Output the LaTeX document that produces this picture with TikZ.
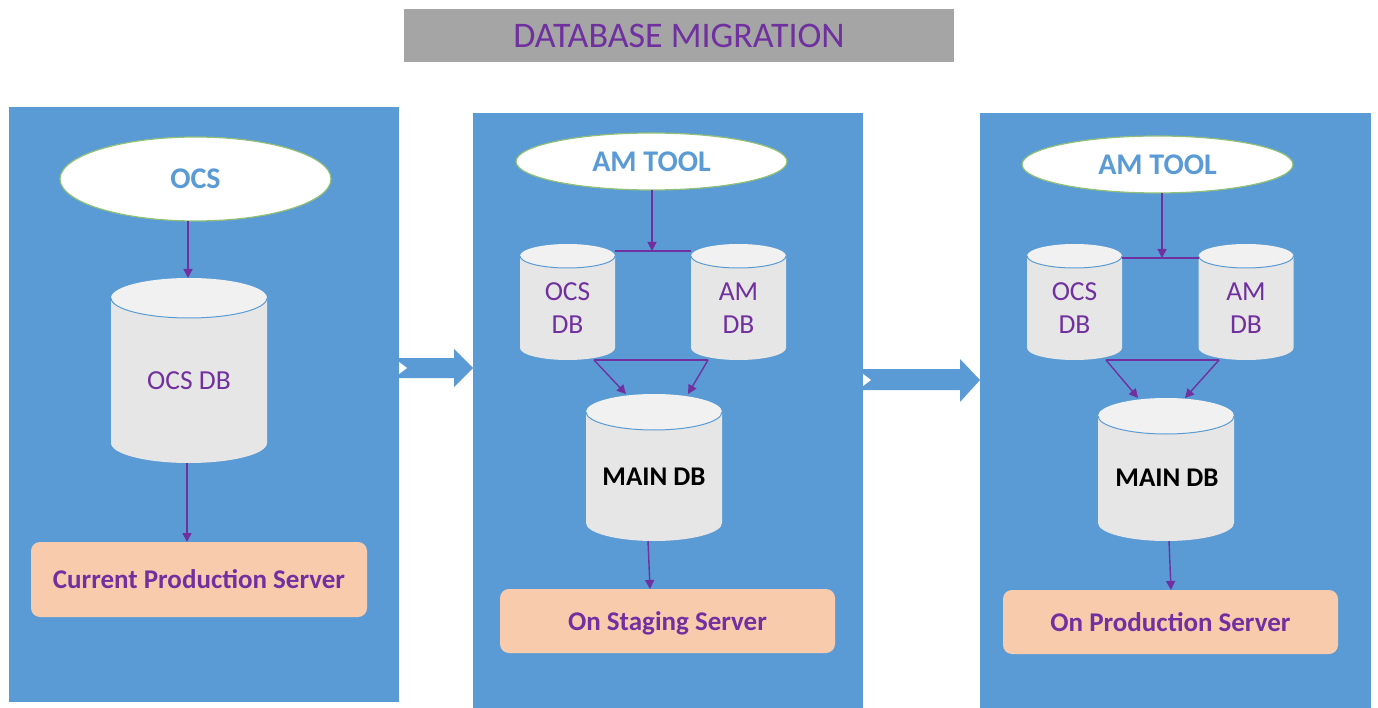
\documentclass[tikz,border=0pt]{standalone}
\usepackage{fontspec}
\setmainfont{Carlito}
\usetikzlibrary{shapes.geometric,arrows.meta,calc}
\definecolor{panelblue}{HTML}{5B9BD5}
\definecolor{dbgray}{HTML}{E7E6E6}
\definecolor{dbtop}{HTML}{F1F1F1}
\definecolor{peach}{HTML}{F8CBAD}
\definecolor{violet}{HTML}{7030A0}
\definecolor{titlegray}{HTML}{A5A5A5}
\definecolor{ellgreen}{HTML}{8FBF78}
\tikzset{
  panel/.style={rectangle,fill=panelblue,inner sep=0pt,outer sep=0pt},
  oval/.style={ellipse,fill=white,draw=ellgreen,line width=1.2pt,inner sep=0pt,outer sep=0pt,text=panelblue,font=\bfseries\fontsize{30}{32}\selectfont,text depth=0pt},
  serverbox/.style={rectangle,rounded corners=9pt,fill=peach,inner sep=0pt,outer sep=0pt,text=violet,font=\bfseries\fontsize{27}{30}\selectfont,text depth=0pt},
  dbshape/.style={rectangle,inner sep=0pt,outer sep=0pt},
  dblabel/.style={text=violet,align=center,font=\fontsize{27.5}{33}\selectfont,inner sep=0pt},
  mainlabel/.style={text=black,font=\bfseries\fontsize{27}{30}\selectfont,inner sep=0pt},
  link/.style={draw=violet,line width=1.4pt},
  linkarrow/.style={link,-{Triangle[length=9pt,width=9pt]}},
  blockarrow/.style={fill=panelblue,draw=none},
}
% name, centre x, top, bottom, half width, ellipse half height
\newcommand{\dbcyl}[6]{%
  \fill[dbgray] (#2-#5,#3+#6) arc[start angle=180,end angle=360,x radius=#5pt,y radius=#6pt]
     -- (#2+#5,#4-#6) arc[start angle=0,end angle=-180,x radius=#5pt,y radius=#6pt] -- cycle;
  \fill[dbtop] (#2,#3+#6) ellipse[x radius=#5pt,y radius=#6pt];
  \draw[panelblue,line width=1pt] (#2-#5,#3+#6) arc[start angle=180,end angle=360,x radius=#5pt,y radius=#6pt];
  \node[dbshape,minimum width=2*#5 pt,minimum height=#4-#3 pt] (#1) at (#2,{(#3+#4)/2}) {};
}
\begin{document}
\begin{tikzpicture}[x=1pt,y=-1pt]
\useasboundingbox (0,0) rectangle (1378,708);
\fill[white] (0,0) rectangle (1378,708);
% title
\node[rectangle,fill=titlegray,minimum width=550pt,minimum height=53pt,inner sep=0pt,text=violet,font=\fontsize{36}{38}\selectfont] (title) at (679,35.5) {DATABASE MIGRATION};
% panels
\node[panel,minimum width=390pt,minimum height=595pt] (p1) at (204,404.5) {};
\node[panel,minimum width=390pt,minimum height=595pt] (p2) at (668,410.5) {};
\node[panel,minimum width=391pt,minimum height=595pt] (p3) at (1175.5,410.5) {};
% block arrows
\fill[blockarrow] (p1.east |- 0,358) -- (454,358) -- (454,349) -- (p2.west |- 0,368) -- (454,387) -- (454,378) -- (p1.east |- 0,378) -- cycle;
\fill[white] (p1.east |- 0,362) -- (407,368) -- (p1.east |- 0,374) -- cycle;
\fill[blockarrow] (p2.east |- 0,369) -- (960,369) -- (960,359) -- (p3.west |- 0,380) -- (960,402) -- (960,390) -- (p2.east |- 0,390) -- cycle;
\fill[white] (p2.east |- 0,374) -- (871,380) -- (p2.east |- 0,386) -- cycle;
% panel 1
\node[oval,minimum width=271pt,minimum height=84pt] (ocs) at (195.5,179) {OCS};
\dbcyl{ocsdbA}{189}{278}{463}{78}{20}
\node[dblabel] (ocsdbAtext) at (189,381) {OCS DB};
\node[serverbox,minimum width=336pt,minimum height=75pt] (srvA) at (199,579.5) {Current Production Server};
\draw[linkarrow] (ocs.south -| 188,0) -- (ocsdbA.north -| 188,0);
\draw[linkarrow] (ocsdbA.south -| 187,0) -- (srvA.north -| 187,0);
% panel 2
\node[oval,minimum width=271pt,minimum height=57pt] (amB) at (651.5,161.5) {AM TOOL};
\dbcyl{ocsdbB}{567.5}{244}{360}{47.5}{12}
\dbcyl{amdbB}{738.5}{244}{360}{47.5}{12}
\dbcyl{mainB}{654}{394}{541}{68}{18}
\node[dblabel] (ocsdbBtext) at (567.5,308) {OCS\\DB};
\node[dblabel] (amdbBtext) at (738.5,308) {AM\\DB};
\node[mainlabel] (mainBtext) at (654,477) {MAIN DB};
\node[serverbox,minimum width=335pt,minimum height=64pt] (srvB) at (667.5,621) {On Staging Server};
\draw[link] (ocsdbB.east |- 0,251) -- (amdbB.west |- 0,251);
\draw[linkarrow] (amB.south -| 652,0) -- (652,251);
\draw[link] (594,360) -- (708,360);
\draw[linkarrow] (594,360) -- (mainB.north -| 626,0);
\draw[linkarrow] (708,360) -- (mainB.north -| 688,0);
\draw[linkarrow] (mainB.south -| 648,0) -- (srvB.north -| 650,0);
% panel 3
\node[oval,minimum width=271pt,minimum height=57pt] (amC) at (1157.5,164.5) {AM TOOL};
\dbcyl{ocsdbC}{1074.5}{244}{360}{47.5}{12}
\dbcyl{amdbC}{1246}{244}{360}{47.5}{12}
\dbcyl{mainC}{1166}{398}{541}{68}{18}
\node[dblabel] (ocsdbCtext) at (1074.5,308) {OCS\\DB};
\node[dblabel] (amdbCtext) at (1246,308) {AM\\DB};
\node[mainlabel] (mainCtext) at (1167,478) {MAIN DB};
\node[serverbox,minimum width=335pt,minimum height=64pt] (srvC) at (1170.5,622) {On Production Server};
\draw[link] (ocsdbC.east |- 0,258) -- (amdbC.west |- 0,258);
\draw[linkarrow] (amC.south -| 1162,0) -- (1162,258);
\draw[link] (1106,360) -- (1219,360);
\draw[linkarrow] (1106,360) -- (mainC.north -| 1138,0);
\draw[linkarrow] (1219,360) -- (mainC.north -| 1185,0);
\draw[linkarrow] (mainC.south -| 1169,0) -- (srvC.north -| 1171,0);
\end{tikzpicture}
\end{document}
